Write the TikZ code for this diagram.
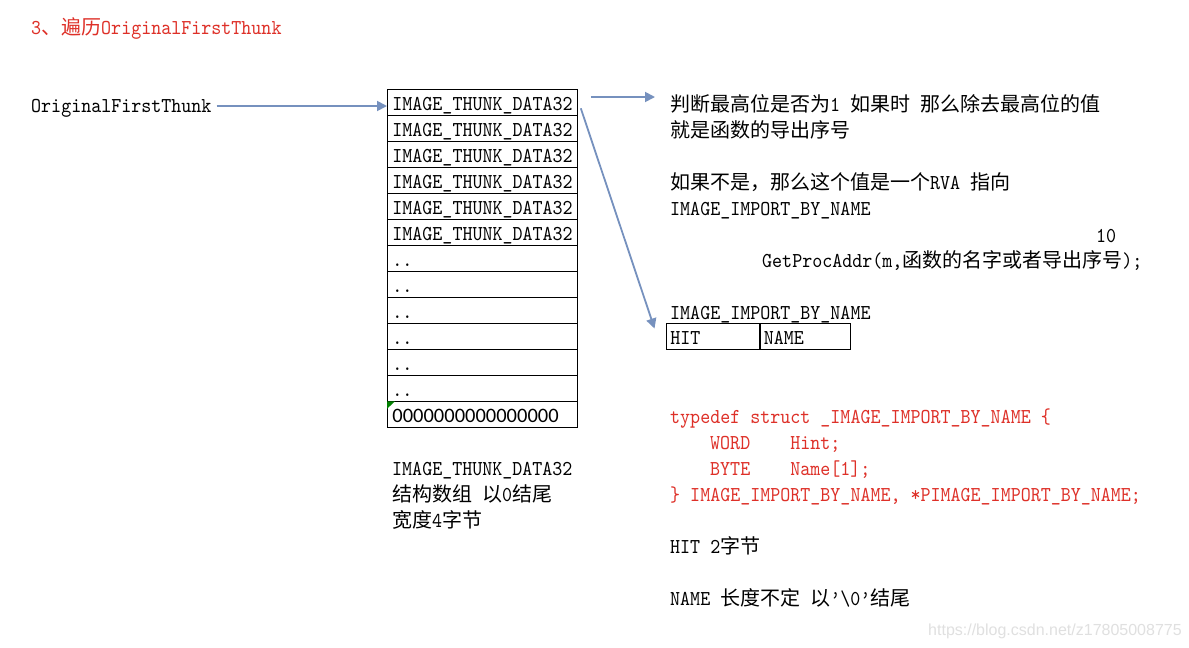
\documentclass[tikz,border=0pt]{standalone}
\usepackage{fontspec}
\setmainfont{lmmono10-regular.otf}[FakeStretch=0.9]
\newfontfamily\cjkfont{Noto Sans CJK SC}
\newfontfamily\zerofont{Carlito}
\newfontfamily\markfont{Liberation Sans}
\newcommand{\zh}[1]{{\cjkfont\fontsize{20}{26}\selectfont #1}}
\usetikzlibrary{arrows.meta}
\definecolor{arrowblue}{RGB}{118,145,190}
\definecolor{codered}{RGB}{222,48,40}
\definecolor{excelgreen}{RGB}{0,128,0}
\tikzset{
  txt/.style={anchor=base west, inner sep=0pt},
  cell/.style={draw, line width=0.8pt, anchor=north west, inner xsep=5pt,
    inner ysep=1.75pt, align=left, text height=19pt, text depth=3.5pt},
  link/.style={draw=arrowblue, line width=1.8pt, -{Triangle[length=10pt,width=10pt]}}
}
\begin{document}
\begin{tikzpicture}[x=1pt, y=-1pt, font=\fontsize{21.2}{26}\selectfont]
            \fill[white] (0,0) rectangle (1189,648);
            % title
            \node[txt, text=codered] (title) at (31,34) {3\zh{、遍历}OriginalFirstThunk};
            \node[anchor=west, inner sep=0pt, text height=13pt, text depth=1pt] (oft) at (31,106) {OriginalFirstThunk};
            % thunk array
            \foreach \i in {1,...,6}
              \node[cell, text width=180pt] (cell\i) at (387,{89.3+26*(\i-1)}) {IMAGE\_THUNK\_DATA32};
            \foreach \i in {7,...,12}
              \node[cell, text width=180pt] (cell\i) at (387,{89.3+26*(\i-1)}) {..};
            \node[cell, text width=180pt, font=\zerofont\fontsize{20.5}{26}\selectfont] (cell13) at (387,401.3) {0000000000000000};
            \fill[excelgreen] (cell13.north west) -- ++(8,0) -- ++(-8,7.5) -- cycle;
            \node[txt] (note1) at (392,475) {IMAGE\_THUNK\_DATA32};
            \node[txt] (note2) at (392,501) {\zh{结构数组} \zh{以}0\zh{结尾}};
            \node[txt] (note3) at (392,527) {\zh{宽度}4\zh{字节}};
            % right side
            \node[txt] (l1) at (670,111) {\zh{判断最高位是否为}1 \zh{如果时} \zh{那么除去最高位的值}};
            \node[txt] (l2) at (670,137) {\zh{就是函数的导出序号}};
            \node[txt] (l3) at (670,189) {\zh{如果不是，那么这个值是一个}RVA \zh{指向}};
            \node[txt] (l4) at (670,215) {IMAGE\_IMPORT\_BY\_NAME};
            \node[txt] (ten) at (1096,242) {10};
            \node[txt] (gpa) at (762,267) {GetProcAddr(m,\zh{函数的名字或者导出序号});};
            \node[txt] (ibn) at (670,319) {IMAGE\_IMPORT\_BY\_NAME};
            \node[cell, inner xsep=4pt, text width=84.7pt] (hit) at (666,323.3) {HIT};
            \node[cell, inner xsep=4pt, text width=82.3pt] (nm) at (hit.north east) {NAME};
            % struct definition
            \node[txt, text=codered] (c1) at (670,423) {typedef struct \_IMAGE\_IMPORT\_BY\_NAME \{};
            \node[txt, text=codered] (c2) at (710,449) {WORD\hspace{40pt}Hint;};
            \node[txt, text=codered] (c3) at (710,475) {BYTE\hspace{40pt}Name[1];};
            \node[txt, text=codered] (c4) at (670,501) {\} IMAGE\_IMPORT\_BY\_NAME, *PIMAGE\_IMPORT\_BY\_NAME;};
            \node[txt] (hitnote) at (670,553) {HIT 2\zh{字节}};
            \node[txt] (nmnote) at (670,605) {NAME \zh{长度不定} \zh{以}’\textbackslash 0’\zh{结尾}};
            \node[txt, font=\markfont\fontsize{16}{18}\selectfont, text=black!12] (wm) at (928,635) {https://blog.csdn.net/z17805008775};
            % arrows
            \draw[link] ([xshift=5pt]oft.east) -- (oft.east -| cell1.west);
            \draw[link] ([xshift=13pt,yshift=-7.7pt]cell1.north east) -- ([xshift=-15pt,yshift=14pt]l1.base west);
            \draw[link] ([xshift=3pt,yshift=-19pt]cell1.north east) -- ([xshift=-11.5pt,yshift=-5.2pt]hit.north west);
          \end{tikzpicture}
\end{document}
